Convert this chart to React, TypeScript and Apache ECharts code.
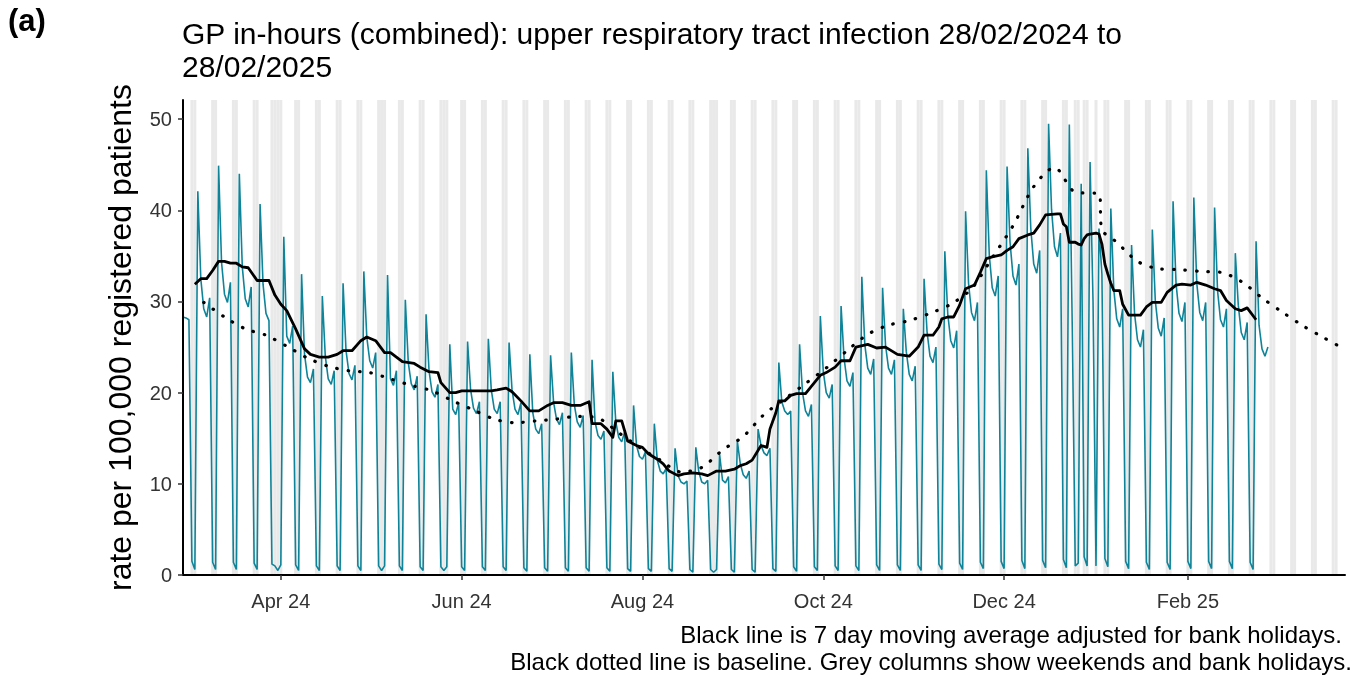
import { useEffect, useRef } from 'react';
import * as echarts from 'echarts';

// ---------- data ----------
const START_DATE = '2024-02-28';
const AXIS_MIN = '2024-02-28';
const AXIS_MAX = '2025-03-26';

// daily rate per 100,000, from Wed 28/02/2024 to Fri 28/02/2025 (rows are Mon..Sun weeks)
const dailyRate: number[] = [
  28.3, 28.2, 28.0, 1.5, 0.6,
  42.1, 32.5, 29.2, 28.3, 30.4, 1.4, 0.6,
  44.9, 34.3, 30.8, 29.9, 32.1, 1.4, 0.6,
  44.0, 33.8, 30.3, 29.4, 31.6, 1.3, 0.6,
  40.7, 31.9, 28.7, 27.9, 1.2, 1.0, 0.5,
  1.1, 37.1, 26.2, 25.4, 27.3, 1.1, 0.5,
  33.0, 24.2, 21.7, 21.1, 22.6, 1.0, 0.5,
  30.6, 24.0, 21.5, 20.9, 22.4, 1.0, 0.5,
  32.0, 24.6, 22.1, 21.4, 23.0, 1.0, 0.5,
  33.3, 26.1, 23.5, 22.7, 24.4, 1.0, 0.5,
  1.0, 32.9, 21.5, 20.8, 22.4, 1.0, 0.5,
  30.2, 23.3, 21.0, 20.3, 21.8, 0.9, 0.5,
  28.6, 22.4, 20.1, 19.5, 20.9, 0.9, 0.5,
  0.9, 25.3, 18.2, 17.6, 18.9, 0.9, 0.5,
  25.6, 20.4, 18.3, 17.7, 19.0, 0.9, 0.5,
  25.9, 20.3, 18.2, 17.7, 19.0, 0.9, 0.5,
  25.5, 20.3, 18.2, 17.6, 18.9, 0.8, 0.4,
  24.2, 17.8, 16.0, 15.5, 16.6, 0.8, 0.4,
  24.1, 19.0, 17.1, 16.5, 17.8, 0.8, 0.4,
  24.4, 18.7, 16.8, 16.2, 17.5, 0.8, 0.4,
  23.6, 16.8, 15.3, 14.9, 15.8, 0.8, 0.4,
  22.3, 16.8, 15.1, 14.6, 15.7, 0.7, 0.4,
  18.6, 14.2, 13.0, 12.7, 13.5, 0.7, 0.4,
  16.6, 12.6, 11.4, 11.1, 11.7, 0.7, 0.4,
  13.9, 10.9, 10.2, 10.0, 10.3, 0.6, 0.3,
  14.0, 11.3, 10.2, 10.0, 10.4, 0.6, 0.3,
  0.6, 13.3, 10.4, 10.1, 10.8, 0.6, 0.3,
  14.7, 12.2, 11.0, 10.6, 11.4, 0.6, 0.3,
  16.0, 14.2, 13.4, 13.1, 13.9, 0.7, 0.4,
  23.3, 19.0, 18.0, 17.6, 18.0, 0.9, 0.4,
  25.3, 20.0, 18.0, 17.4, 18.7, 0.9, 0.5,
  28.4, 22.3, 20.0, 19.4, 20.9, 1.0, 0.5,
  29.5, 23.8, 21.3, 20.7, 22.2, 1.0, 0.5,
  32.7, 25.3, 22.7, 22.0, 23.7, 1.1, 0.5,
  31.5, 25.2, 22.7, 22.0, 23.6, 1.1, 0.5,
  29.2, 24.5, 22.0, 21.3, 22.9, 1.1, 0.5,
  32.5, 26.7, 24.0, 23.3, 25.0, 1.2, 0.6,
  35.5, 28.6, 25.7, 24.9, 26.8, 1.3, 0.6,
  39.9, 32.0, 28.8, 27.9, 29.9, 1.4, 0.7,
  44.4, 35.1, 31.5, 30.6, 32.8, 1.5, 0.7,
  44.8, 36.5, 32.8, 31.8, 34.1, 1.6, 0.7,
  46.8, 38.0, 34.1, 33.1, 35.6, 1.6, 0.8,
  49.5, 40.1, 36.0, 34.9, 37.5, 1.7, 0.8,
  49.4, 27.0, 1.0, 1.3, 42.9, 2.0, 1.0,
  45.3, 30.0, 1.0, 38.0, 33.0, 1.8, 0.9,
  40.2, 31.3, 28.1, 27.2, 29.2, 1.5, 0.7,
  36.2, 28.7, 25.8, 25.0, 26.9, 1.4, 0.6,
  37.9, 30.1, 27.1, 26.2, 28.2, 1.4, 0.6,
  41.0, 32.0, 28.7, 27.8, 29.9, 1.5, 0.7,
  41.4, 32.0, 28.8, 27.9, 29.9, 1.5, 0.7,
  40.3, 31.2, 28.0, 27.2, 29.2, 1.5, 0.7,
  35.3, 29.6, 26.6, 25.8, 27.7, 1.4, 0.6,
  36.6, 27.4, 24.8, 24.0, 25.0,
];

// 7 day moving average (adjusted for bank holidays)
const maDaysSinceStart: number[] = [
  4, 6, 8, 10, 12, 14, 16, 18, 20, 22,
  25, 29, 31, 33, 35, 38, 41, 43, 46, 49,
  52, 54, 57, 60, 62, 65, 68, 70, 72, 74,
  78, 80, 83, 86, 87, 90, 92, 94, 97, 100,
  104, 106, 109, 111, 114, 117, 120, 123, 125, 128,
  131, 134, 137, 138, 141, 143, 145, 146, 148, 150,
  153, 155, 157, 160, 162, 164, 167, 169, 172, 175,
  177, 180, 183, 186, 188, 190, 192, 195, 197, 198,
  200, 201, 203, 205, 207, 210, 213, 215, 217, 220,
  222, 225, 227, 231, 234, 237, 241, 245, 248, 250,
  253, 255, 256, 258, 260, 262, 264, 267, 269, 271,
  273, 276, 278, 280, 282, 285, 287, 289, 291, 295,
  296, 297, 298, 299, 301, 302, 303, 304, 305, 306,
  308, 309, 310, 311, 312, 313, 314, 316, 317, 319,
  323, 325, 327, 330, 332, 335, 337, 340, 342, 345,
  348, 350, 352, 355, 357, 359, 362,
];
const maValues: number[] = [
  31.9, 32.5, 32.5, 33.4, 34.4, 34.4, 34.2, 34.2, 33.8, 33.7,
  32.3, 32.3, 30.7, 29.7, 29.0, 27.0, 24.8, 24.2, 23.9, 23.9,
  24.2, 24.6, 24.6, 25.7, 26.1, 25.7, 24.4, 24.4, 23.9, 23.4,
  23.2, 22.8, 22.3, 22.2, 21.1, 20.0, 20.0, 20.2, 20.2, 20.2,
  20.2, 20.3, 20.5, 20.1, 19.1, 18.0, 18.0, 18.6, 18.9, 18.9,
  18.6, 18.6, 19.0, 16.6, 16.6, 16.0, 15.1, 16.9, 16.9, 14.7,
  14.2, 14.0, 13.3, 12.7, 12.2, 11.4, 10.9, 11.1, 11.2, 11.1,
  10.9, 11.4, 11.4, 11.6, 12.0, 12.2, 12.6, 14.2, 14.0, 16.0,
  17.8, 19.1, 19.1, 19.7, 19.9, 19.9, 21.1, 21.9, 22.2, 22.8,
  23.5, 23.5, 25.0, 25.3, 24.9, 25.0, 24.2, 24.0, 25.0, 26.3,
  26.3, 27.2, 28.1, 28.3, 28.3, 29.6, 31.4, 31.8, 33.2, 34.7,
  34.9, 35.1, 35.6, 36.0, 36.9, 37.3, 37.5, 38.4, 39.5, 39.6,
  39.6, 38.5, 38.2, 36.5, 36.5, 36.3, 36.2, 36.9, 37.3, 37.4,
  37.5, 37.4, 36.3, 34.1, 33.0, 32.0, 31.2, 31.2, 29.7, 28.5,
  28.5, 29.4, 29.9, 29.9, 31.0, 31.8, 31.9, 31.8, 32.1, 31.8,
  31.4, 31.2, 30.1, 29.2, 29.0, 29.3, 28.0,
];

const bankHolidays: string[] = [
  '2024-03-29', '2024-04-01', '2024-05-06', '2024-05-27',
  '2024-08-26', '2024-12-25', '2024-12-26', '2025-01-01',
];

const baselineDates: string[] = [
  '2024-03-06', '2024-03-13', '2024-03-20', '2024-03-27', '2024-04-03', '2024-04-10',
  '2024-04-17', '2024-04-24', '2024-05-01', '2024-05-08', '2024-05-15', '2024-05-22',
  '2024-05-29', '2024-06-05', '2024-06-12', '2024-06-19', '2024-06-26', '2024-07-03',
  '2024-07-10', '2024-07-17', '2024-07-24', '2024-07-31', '2024-08-07', '2024-08-14',
  '2024-08-21', '2024-08-28', '2024-09-04', '2024-09-11', '2024-09-18', '2024-09-25',
  '2024-10-02', '2024-10-09', '2024-10-16', '2024-10-23', '2024-10-30', '2024-11-06',
  '2024-11-13', '2024-11-20', '2024-11-27', '2024-12-04', '2024-12-11', '2024-12-18',
  '2024-12-25', '2025-01-02', '2025-01-03', '2025-01-08', '2025-01-15', '2025-01-22',
  '2025-01-29', '2025-02-05', '2025-02-12', '2025-02-19', '2025-02-26', '2025-03-05',
  '2025-03-12', '2025-03-19', '2025-03-24',
];
const baselineValues: number[] = [
  29.9, 28.3, 27.0, 26.3, 25.1, 23.8,
  22.9, 22.4, 22.2, 21.5, 20.8, 20.2,
  19.1, 18.1, 17.1, 16.7, 16.9, 17.1,
  17.4, 17.2, 15.6, 14.0, 12.6, 11.3,
  11.8, 13.7, 15.2, 17.6, 19.3, 21.0,
  22.7, 24.6, 26.4, 27.4, 27.9, 28.7,
  29.7, 31.4, 34.8, 38.3, 42.6, 44.7,
  42.0, 41.8, 37.9, 36.5, 34.4, 33.6,
  33.5, 33.3, 33.2, 32.2, 30.4, 28.8,
  27.3, 26.0, 25.1,
];

const xTickDates: string[] = ['2024-04-01', '2024-06-01', '2024-08-01', '2024-10-01', '2024-12-01', '2025-02-01'];
const xTickLabels: string[] = ['Apr 24', 'Jun 24', 'Aug 24', 'Oct 24', 'Dec 24', 'Feb 25'];
const yTicks: number[] = [0, 10, 20, 30, 40, 50];

// ---------- helpers ----------
const DAY = 86400000;
const ts = (s: string) => {
  const [y, m, d] = s.split('-').map(Number);
  return Date.UTC(y, m - 1, d);
};

export default function App() {
  const ref = useRef<HTMLDivElement>(null);

  useEffect(() => {
    if (!ref.current) return;
    const chart = echarts.init(ref.current, undefined, { renderer: 'svg' });

    const t0 = ts(START_DATE);
    const bh = new Set(bankHolidays.map(ts));
    const isOff = (t: number) => {
      const wd = new Date(t).getUTCDay();
      return wd === 0 || wd === 6 || bh.has(t);
    };

    const daily = dailyRate.map((v, i) => [t0 + i * DAY, v]);
    const ma = maDaysSinceStart.map((d, i) => [t0 + d * DAY, maValues[i]]);
    const baseline = baselineDates.map((s, i) => [ts(s), baselineValues[i]]);

    // grey columns: weekends and bank holidays across the axis range
    const areas: any[] = [];
    for (let t = ts(AXIS_MIN); t <= ts(AXIS_MAX); t += DAY) {
      if (isOff(t)) areas.push([{ xAxis: t - DAY / 2 }, { xAxis: t + DAY / 2 }]);
    }

    const xTickTs = xTickDates.map(ts);
    const font = "'Liberation Sans', Arial, sans-serif";

    chart.setOption({
      animation: false,
      textStyle: { fontFamily: font },
      title: {
        text: 'GP in-hours (combined): upper respiratory tract infection 28/02/2024 to\n28/02/2025',
        left: 182,
        top: 17,
        padding: 0,
        textStyle: { fontSize: 30, fontWeight: 'normal', color: '#000', lineHeight: 33, fontFamily: font },
      },
      graphic: [
        { type: 'text', left: 8, top: 5, style: { text: '(a)', font: `bold 31px ${font}`, fill: '#000' } },
        {
          type: 'text', right: 25, top: 622,
          style: { text: 'Black line is 7 day moving average adjusted for bank holidays.', font: `24px ${font}`, fill: '#000', textAlign: 'right' },
        },
        {
          type: 'text', right: 15, top: 649,
          style: { text: 'Black dotted line is baseline. Grey columns show weekends and bank holidays.', font: `24px ${font}`, fill: '#000', textAlign: 'right' },
        },
      ],
      grid: { left: 183, right: 22, top: 100, bottom: 100 },
      xAxis: {
        type: 'value',
        z: 10,
        min: ts(AXIS_MIN),
        max: ts(AXIS_MAX),
        splitLine: { show: false },
        axisLine: { show: true, lineStyle: { color: '#000', width: 2 } },
        axisTick: { show: true, customValues: xTickTs, length: 5, lineStyle: { color: '#333', width: 1.5 } },
        axisLabel: {
          customValues: xTickTs,
          margin: 16,
          fontSize: 20,
          color: '#333',
          fontFamily: font,
          formatter: (v: number) => {
            const i = xTickTs.indexOf(v);
            return i >= 0 ? xTickLabels[i] : '';
          },
        },
      },
      yAxis: {
        type: 'value',
        z: 10,
        min: 0,
        max: 52.1,
        name: 'rate per 100,000 registered patients',
        nameLocation: 'middle',
        nameGap: 47,
        nameTextStyle: { fontSize: 32, color: '#000', fontFamily: font },
        splitLine: { show: false },
        axisLine: { show: true, lineStyle: { color: '#000', width: 2 } },
        axisTick: { show: true, customValues: yTicks, length: 5, lineStyle: { color: '#333', width: 1.5 } },
        axisLabel: { customValues: yTicks, fontSize: 20, color: '#333', margin: 11, fontFamily: font },
      },
      series: [
        {
          name: 'columns',
          type: 'line',
          data: [[ts(AXIS_MIN), null]],
          showSymbol: false,
          silent: true,
          z: 1,
          markArea: { silent: true, itemStyle: { color: '#e9e9e9' }, data: areas },
        },
        {
          name: 'daily',
          type: 'line',
          data: daily,
          showSymbol: false,
          z: 3,
          lineStyle: { color: '#0f8499', width: 1.6 },
        },
        {
          name: 'baseline',
          type: 'line',
          data: baseline,
          showSymbol: false,
          smooth: 0.3,
          z: 4,
          lineStyle: { color: '#000', width: 3.2, type: [0.5, 11], cap: 'round' },
        },
        {
          name: 'ma',
          type: 'line',
          data: ma,
          showSymbol: false,
          z: 5,
          lineStyle: { color: '#000', width: 2.8, join: 'round' },
        },
      ],
    });

    return () => chart.dispose();
  }, []);

  return <div ref={ref} style={{ position: 'fixed', left: 0, top: 0, width: 1367, height: 675 }} />;
}
